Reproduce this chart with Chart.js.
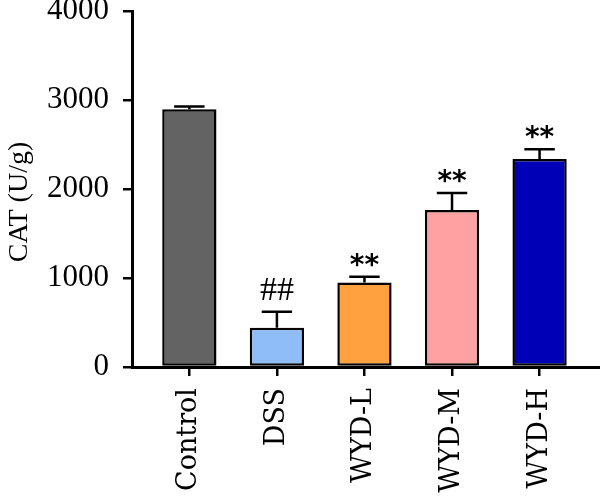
<!DOCTYPE html>
<html>
<head>
<meta charset="utf-8">
<script src="https://cdn.jsdelivr.net/npm/chart.js@4/dist/chart.umd.min.js"></script>
<style>
  html, body { margin: 0; padding: 0; background: #fff; }
  #wrap { width: 600px; height: 504px; }
</style>
</head>
<body>
<div id="wrap"><canvas id="catChart" width="600" height="504"></canvas></div>
<script>
const groups = ["Control", "DSS", "WYD-L", "WYD-M", "WYD-H"];
const catMeans = [2897, 442, 950, 1765, 2336];
const catErrors = [29, 179, 63, 190, 112];
const sigMarks = ["", "##", "**", "**", "**"];
const barColors = ["#636363", "#8fbdf7", "#ffa13f", "#ffa1a3", "#0000b6"];
const yTicks = [0, 1000, 2000, 3000, 4000];
const yTitle = "CAT (U/g)";

const serif = "'Liberation Serif', 'Times New Roman', serif";

// upper error whisker + significance marks above each bar
const errorBars = {
  id: 'errorBars',
  afterDatasetsDraw(chart) {
    const { ctx, scales: { y } } = chart;
    const bars = chart.getDatasetMeta(0).data;
    ctx.save();
    ctx.strokeStyle = '#000';
    ctx.fillStyle = '#000';
    ctx.lineWidth = 2.5;
    ctx.textAlign = 'center';
    bars.forEach((bar, i) => {
      const top = y.getPixelForValue(catMeans[i]);
      const hi = y.getPixelForValue(catMeans[i] + catErrors[i]);
      const cap = bar.width * 0.28;
      ctx.beginPath();
      ctx.moveTo(bar.x, top);
      ctx.lineTo(bar.x, hi);
      ctx.moveTo(bar.x - cap, hi);
      ctx.lineTo(bar.x + cap, hi);
      ctx.stroke();
      const mark = sigMarks[i];
      if (mark) {
        // asterisks look heavier in the original, hashes are serif
        const star = mark.startsWith('*');
        ctx.font = star ? "bold 28px 'DejaVu Sans', sans-serif" : '34px ' + serif;
        const m = ctx.measureText(mark);
        ctx.fillText(mark, bar.x, hi - (star ? 10 : 12) - m.actualBoundingBoxDescent);
      }
    });
    ctx.restore();
  }
};

// y title sits a bit lower than the axis middle in the original
const axisTitle = {
  id: 'axisTitle',
  afterDraw(chart) {
    const { ctx, chartArea, scales: { y } } = chart;
    ctx.save();
    ctx.translate(y.left + 20, (chartArea.top + chartArea.bottom) / 2 + 13);
    ctx.rotate(-Math.PI / 2);
    ctx.font = '28px ' + serif;
    ctx.fillStyle = '#000';
    ctx.textAlign = 'center';
    ctx.textBaseline = 'middle';
    ctx.fillText(yTitle, 0, 0);
    ctx.restore();
  }
};

new Chart(document.getElementById('catChart'), {
  type: 'bar',
  data: {
    datasets: [{
      data: catMeans.map((v, i) => ({ x: i, y: v })),
      backgroundColor: barColors,
      borderColor: '#000',
      borderWidth: 2.5,
      borderSkipped: false,
      barPercentage: 0.62,
      categoryPercentage: 1
    }]
  },
  options: {
    responsive: false,
    animation: false,
    devicePixelRatio: 1,
    layout: { padding: { top: 11, left: 0, right: 0, bottom: 0 } },
    plugins: { legend: { display: false }, tooltip: { enabled: false } },
    scales: {
      x: {
        type: 'linear',
        offset: false,
        // a little room between the y axis and the first bar, axis runs off to the right
        min: -0.655,
        max: 4.69,
        bounds: 'data',
        afterBuildTicks: s => { s.ticks = groups.map((_, i) => ({ value: i })); },
        afterFit: s => { s.height = 137; s.paddingLeft = 0; s.paddingRight = 0; },
        border: { display: true, color: '#000', width: 3 },
        grid: { offset: false, drawOnChartArea: false, tickLength: 9, color: '#000', lineWidth: 2.5 },
        ticks: {
          autoSkip: false,
          minRotation: 90,
          maxRotation: 90,
          padding: 12,
          color: '#000',
          font: { family: "'DejaVu Serif', serif", size: 27 },
          callback: v => groups[v] ?? ''
        }
      },
      y: {
        min: 0,
        max: 4000,
        afterBuildTicks: s => { s.ticks = yTicks.map(v => ({ value: v })); },
        afterFit: s => { s.width = 132; s.paddingTop = 0; s.paddingBottom = 0; },
        border: { display: true, color: '#000', width: 3 },
        grid: { drawOnChartArea: false, tickLength: 9, color: '#000', lineWidth: 2.5 },
        ticks: { padding: 14, color: '#000', font: { family: serif, size: 31 }, callback: v => String(v) },
        title: { display: false }
      }
    }
  },
  plugins: [errorBars, axisTitle]
});
</script>
</body>
</html>
